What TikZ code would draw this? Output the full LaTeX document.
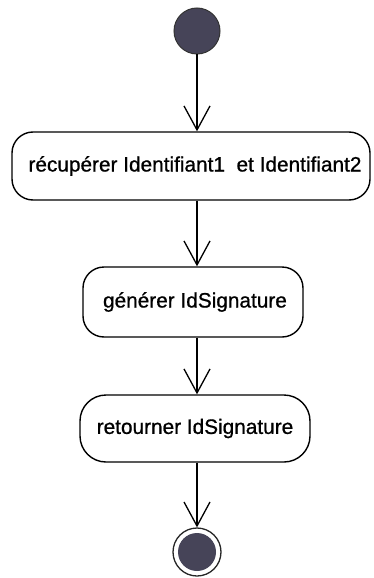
\documentclass[tikz,border=0pt]{standalone}
\usepackage{fontspec}
\setmainfont[FakeBold=0.8]{Liberation Sans}
\usetikzlibrary{arrows.meta}
\begin{document}
\begin{tikzpicture}[x=1pt,y=-1pt,
  act/.style={draw, line width=1.4pt, rounded corners=21pt, inner sep=0pt, font=\fontsize{20.8}{24}\selectfont},
  flow/.style={line width=1.3pt, -{Straight Barb[length=24pt,width=26pt,line width=1.3pt]}},
  dot/.style={circle, draw=black!80, line width=1pt, minimum size=46pt, inner sep=0pt}]
\useasboundingbox (0,0) rectangle (373,578);
\definecolor{dotc}{RGB}{70,68,88}
\node[dot, fill=dotc] (start) at (197,31) {};
\node[act, minimum width=358pt, minimum height=68pt] (a1) at (191,166) {\hspace*{8pt}récupérer Identifiant1~ et Identifiant2};
\node[act, minimum width=220pt, minimum height=70pt] (a2) at (193,302) {\hspace*{4pt}générer IdSignature};
\node[act, minimum width=230pt, minimum height=67pt, rounded corners=26pt] (a3) at (195,428.5) {retourner IdSignature};
\node[circle, draw=black!85, line width=1.3pt, minimum size=48pt, inner sep=0pt] (end) at (197,552) {};
\node[circle, fill=dotc, minimum size=38pt, inner sep=0pt] (endin) at (end.center) {};
\draw[flow] (start.south) -- (start.south |- a1.north);
\draw[flow] (a1.south -| start) -- (a2.north -| start);
\draw[flow] (a2.south -| start) -- (a3.north -| start);
\draw[flow] (a3.south -| start) -- (end.north);
\end{tikzpicture}
\end{document}
